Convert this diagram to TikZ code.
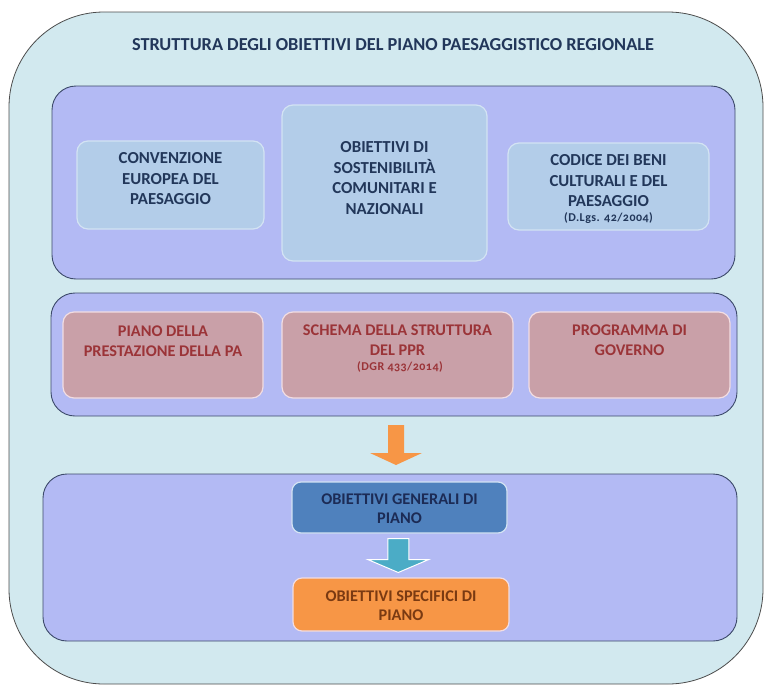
\documentclass[tikz,border=0pt]{standalone}
\usepackage{fontspec}
\setmainfont{Carlito}
\usetikzlibrary{calc}
\definecolor{outerfill}{HTML}{D2E9EF}
\definecolor{panelfill}{HTML}{B3BAF4}
\definecolor{panelline}{HTML}{3C4A6A}
\definecolor{bluefill}{HTML}{B3CDE9}
\definecolor{blueline}{HTML}{D3E3F3}
\definecolor{redfill}{HTML}{C9A0A8}
\definecolor{redline}{HTML}{F2DDE2}
\definecolor{navy}{HTML}{22375A}
\definecolor{darkred}{HTML}{9B3438}
\definecolor{genfill}{HTML}{4F81BD}
\definecolor{gentext}{HTML}{1C2B55}
\definecolor{specfill}{HTML}{F79646}
\definecolor{spectext}{HTML}{7A3A12}
\definecolor{tealarrow}{HTML}{4BACC6}

\begin{document}
\begin{tikzpicture}[x=1pt,y=-1pt,
    panel/.style={draw=panelline,fill=panelfill,line width=0.9pt,rounded corners=24pt,inner sep=0pt},
    bluebox/.style={draw=blueline,fill=bluefill,line width=1.2pt,rounded corners=11pt,inner sep=0pt},
    redbox/.style={draw=redline,fill=redfill,line width=1.2pt,rounded corners=11pt,inner sep=0pt},
    bluetxt/.style={text=navy,align=center,font=\fontsize{16.8}{20.5}\selectfont\bfseries},
    redtxt/.style={text=darkred,align=center,font=\fontsize{16.3}{20}\selectfont\bfseries},
    smalltxt/.style={inner sep=1pt,font=\fontsize{12}{13}\selectfont\bfseries\addfontfeatures{Numbers=OldStyle,LetterSpace=4}}]
    \useasboundingbox (0,0) rectangle (766,686);
    % outer frame and title
    \node[draw=black!70,fill=outerfill,line width=0.8pt,rounded corners=95pt,inner sep=0pt,
        minimum width=754pt,minimum height=672pt] (frame) at (386,348) {};
    \node[text=navy,font=\fontsize{18.3}{22}\selectfont\bfseries] (title) at (393,45)
        {STRUTTURA DEGLI OBIETTIVI DEL PIANO PAESAGGISTICO REGIONALE};
    % first panel
    \node[panel,minimum width=683pt,minimum height=193pt] (p1) at (393.5,182.5) {};
    \node[bluebox,minimum width=187pt,minimum height=88pt] (conv) at (170.5,185) {};
    \node[bluetxt] (convT) at (170.5,179) {CONVENZIONE\\EUROPEA DEL\\PAESAGGIO};
    \node[bluebox,minimum width=205pt,minimum height=156pt] (sost) at (384.5,183) {};
    \node[bluetxt] (sostT) at (384.5,178) {OBIETTIVI DI\\SOSTENIBILITÀ\\COMUNITARI E\\NAZIONALI};
    \node[bluebox,minimum width=201pt,minimum height=87pt] (cod) at (608.5,186.5) {};
    \node[bluetxt] (codT) at (608.5,181) {CODICE DEI BENI\\CULTURALI E DEL\\PAESAGGIO};
    \node[text=navy,smalltxt] (codS) at (608.5,218) {(D.Lgs. 42/2004)};
    % second panel
    \node[panel,minimum width=686pt,minimum height=123pt] (p2) at (394,354.5) {};
    \node[redbox,minimum width=200pt,minimum height=86pt] (prest) at (163,355) {};
    \node[redtxt] (prestT) at (163,341) {PIANO DELLA\\PRESTAZIONE DELLA PA};
    \node[redbox,minimum width=231pt,minimum height=86pt] (schema) at (397.5,355) {};
    \node[redtxt] (schemaT) at (397.5,340) {SCHEMA DELLA STRUTTURA\\DEL PPR};
    \node[text=darkred,smalltxt] (schemaS) at (400,367) {(DGR 433/2014)};
    \node[redbox,minimum width=201pt,minimum height=86pt] (gov) at (629.5,355) {};
    \node[redtxt] (govT) at (629.5,340) {PROGRAMMA DI\\GOVERNO};
    % third panel
    \node[panel,minimum width=694pt,minimum height=167pt] (p3) at (390,557.5) {};
    \node[draw=blueline,fill=genfill,line width=1.2pt,rounded corners=9pt,inner sep=0pt,
        minimum width=215pt,minimum height=51pt] (gen) at (399.5,507.5) {};
    \node[text=gentext,align=center,font=\fontsize{16.3}{19}\selectfont\bfseries] (genT) at (399.5,508.5)
        {OBIETTIVI GENERALI DI\\PIANO};
    \node[draw=redline,fill=specfill,line width=1.2pt,rounded corners=9pt,inner sep=0pt,
        minimum width=216pt,minimum height=53pt] (spec) at (401,604.5) {};
    \node[text=spectext,align=center,font=\fontsize{16.3}{19}\selectfont\bfseries] (specT) at (401,605.5)
        {OBIETTIVI SPECIFICI DI\\PIANO};
    % block arrows
    \coordinate (a1) at ($(p2.south)!0.5!(p3.north)+(4,0)$);
    \fill[specfill] (a1) ++(-8,-20) -- ++(16,0) -- ++(0,28) -- ++(18,0) -- ++(-26,12)
        -- ++(-26,-12) -- ++(18,0) -- cycle;
    \coordinate (a2) at ($(gen.south)!0.5!(spec.north)+(-2,0)$);
    \draw[white,fill=tealarrow,line width=1pt] (a2) ++(-10.5,-17) -- ++(21,0) -- ++(0,21)
        -- ++(20,0) -- ++(-30.5,13) -- ++(-30.5,-13) -- ++(20,0) -- cycle;
\end{tikzpicture}
\end{document}
